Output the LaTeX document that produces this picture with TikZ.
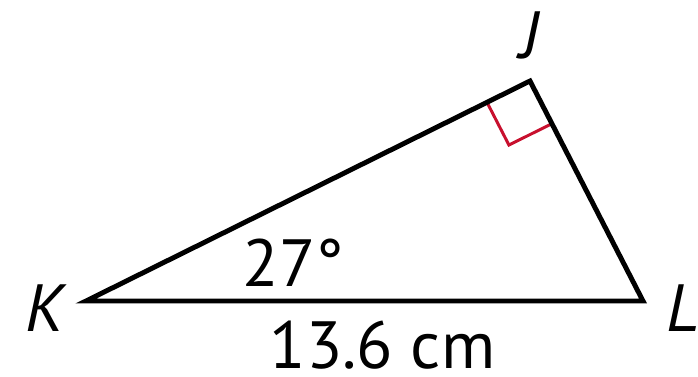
\documentclass[tikz,border=0pt]{standalone}
\usepackage{fontspec}
\setmainfont{PT Sans}
\usepackage{tikz}
\usetikzlibrary{calc}
\definecolor{dark}{HTML}{000000}
\definecolor{rosso}{HTML}{C8102E}

\begin{document}
\begin{tikzpicture}
  \useasboundingbox (0,0) rectangle (13.96cm,7.52cm);

  \coordinate (K) at (1.72cm,1.50cm);
  \coordinate (J) at (10.60cm,5.90cm);
  \coordinate (L) at (12.86cm,1.50cm);

  % Angolo retto in J
  \coordinate (P) at ($(J)!0.96cm!(K)$);
  \coordinate (Q) at ($(J)!0.96cm!(L)$);
  \coordinate (R) at ($(P)+(Q)-(J)$);
  \draw[rosso, line width=1.7pt] (P) -- (R) -- (Q);

  % Triangolo
  \draw[dark, line width=2.8pt] (K) -- (J) -- (L) -- cycle;

  % Etichette vertici
  \node[anchor=base, font=\fontsize{38}{40}\selectfont\itshape] (nJ) at (10.60cm,6.36cm) {J};
  \node[anchor=base, font=\fontsize{38}{40}\selectfont\itshape] (nK) at (0.90cm,0.90cm) {K};
  \node[anchor=base, font=\fontsize{38}{40}\selectfont\itshape] (nL) at (13.66cm,0.90cm) {L};

  % Angolo e lato
  \node[anchor=base, font=\fontsize{38}{40}\selectfont] (ang) at (5.87cm,1.80cm) {27°};
  \node[anchor=base, inner sep=0pt, font=\fontsize{38}{40}\selectfont] (lato) at (7.65cm,0.16cm) {13.6 cm};
\end{tikzpicture}
\end{document}
